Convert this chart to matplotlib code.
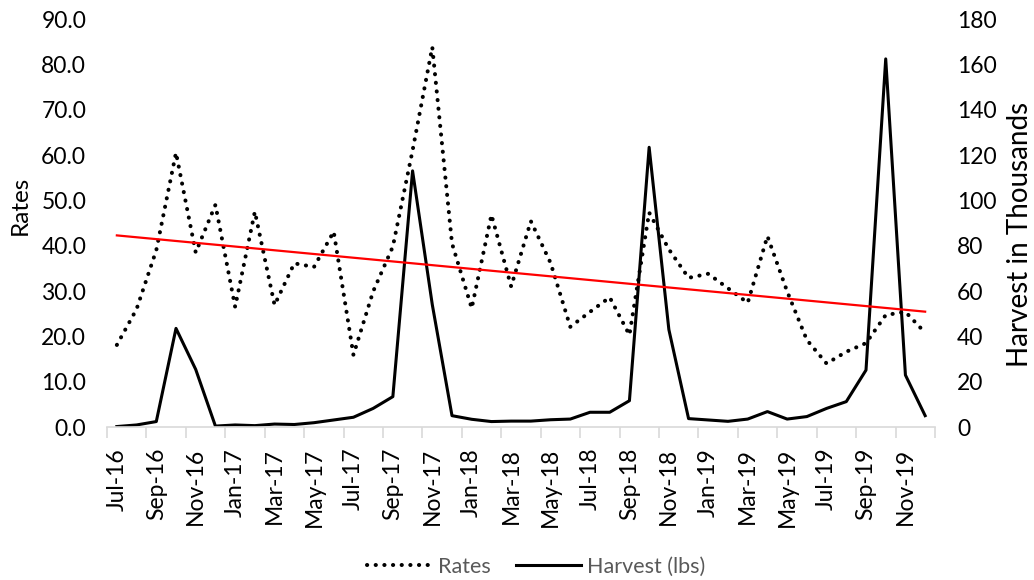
import numpy as np
import matplotlib
matplotlib.use("Agg")
import matplotlib.pyplot as plt
from matplotlib.lines import Line2D

plt.rcParams['font.family'] = ['Lato', 'DejaVu Sans']

months = ["Jul-16", "Aug-16", "Sep-16", "Oct-16", "Nov-16", "Dec-16",
          "Jan-17", "Feb-17", "Mar-17", "Apr-17", "May-17", "Jun-17",
          "Jul-17", "Aug-17", "Sep-17", "Oct-17", "Nov-17", "Dec-17",
          "Jan-18", "Feb-18", "Mar-18", "Apr-18", "May-18", "Jun-18",
          "Jul-18", "Aug-18", "Sep-18", "Oct-18", "Nov-18", "Dec-18",
          "Jan-19", "Feb-19", "Mar-19", "Apr-19", "May-19", "Jun-19",
          "Jul-19", "Aug-19", "Sep-19", "Oct-19", "Nov-19", "Dec-19"]

rates = [18.1, 26.0, 39.0, 60.5, 38.5, 49.0,
         26.5, 47.5, 26.9, 36.1, 35.3, 43.1,
         15.9, 29.9, 39.8, 61.0, 83.8, 40.5,
         26.2, 46.8, 31.0, 45.4, 36.2, 22.1,
         25.4, 28.6, 20.3, 47.3, 39.2, 32.9,
         33.8, 30.6, 27.4, 42.1, 29.9, 19.2,
         14.0, 16.6, 18.5, 24.7, 25.4, 20.8]

harvest_thousands = [0.2, 0.9, 2.4, 43.5, 25.4, 0.4,
                     0.9, 0.6, 1.3, 1.1, 1.9, 3.1,
                     4.3, 8.2, 13.4, 113.0, 54.0, 5.0,
                     3.4, 2.4, 2.6, 2.6, 3.2, 3.5,
                     6.5, 6.5, 11.6, 123.4, 43.0, 3.7,
                     3.1, 2.5, 3.5, 6.8, 3.5, 4.6,
                     8.2, 11.2, 25.1, 162.4, 22.9, 5.0]

x = np.arange(len(months))
slope, intercept = np.polyfit(x, rates, 1)
trend = slope * x + intercept

fig = plt.figure(figsize=(10.34, 5.8), dpi=100)
ax = fig.add_axes([107 / 1034, 1 - 427 / 580, (935 - 107) / 1034, (427 - 19) / 580])
ax2 = ax.twinx()

TXT = 16.5
grey = '#d9d9d9'
dots = (0, (0.05, 2.1))

# primary axis: rates and their linear trend
ax.plot(x, rates, color='black', lw=2.9, linestyle=dots,
        dash_capstyle='round', zorder=3)
ax.plot(x, trend, color='#ff0000', lw=1.6, zorder=4)

# secondary axis: harvest
ax2.plot(x, harvest_thousands, color='black', lw=2.2, zorder=2)

ax.set_xlim(-0.5, len(months) - 0.5)
ax.set_ylim(0, 90)
ax2.set_ylim(0, 180)
ax.set_yticks(np.arange(0, 91, 10))
ax.set_yticklabels([f"{v:.1f}" for v in np.arange(0, 91, 10)])
ax2.set_yticks(np.arange(0, 181, 20))

ax.set_xticks(x[::2])
ax.set_xticklabels(months[::2], rotation=90)
ax.set_xticks(np.arange(-0.5, len(months), 2), minor=True)
ax.tick_params(axis='x', which='major', length=0, pad=15, labelsize=TXT)
ax.tick_params(axis='x', which='minor', length=8, color=grey, width=1.2)
ax.tick_params(axis='y', length=0, pad=15, labelsize=TXT)
ax2.tick_params(axis='y', length=0, pad=16, labelsize=TXT)

for a in (ax, ax2):
    for s in ('left', 'right', 'top'):
        a.spines[s].set_visible(False)
    a.spines['bottom'].set_color(grey)
    a.spines['bottom'].set_linewidth(1.2)
ax2.spines['bottom'].set_visible(False)

ax.set_zorder(ax2.get_zorder() + 1)
ax.patch.set_visible(False)

fig.text(20 / 1034, 1 - 205 / 580, "Rates", rotation=90, fontsize=17.5,
         ha='center', va='center')
fig.text(1020 / 1034, 1 - 234 / 580, "Harvest in Thousands", rotation=90,
         fontsize=20, ha='center', va='center')

handles = [Line2D([], [], color='black', lw=2.9, linestyle=dots,
                  dash_capstyle='round'),
           Line2D([], [], color='black', lw=2.2)]
leg = fig.legend(handles, ["Rates", "Harvest (lbs)"], loc='center',
                 bbox_to_anchor=(536 / 1034, 1 - 567 / 580), ncol=2,
                 frameon=False, fontsize=15.5, handlelength=3.0,
                 handletextpad=0.3, columnspacing=1.2)
for t in leg.get_texts():
    t.set_color('#595959')

fig.savefig("out.png", dpi=100)
